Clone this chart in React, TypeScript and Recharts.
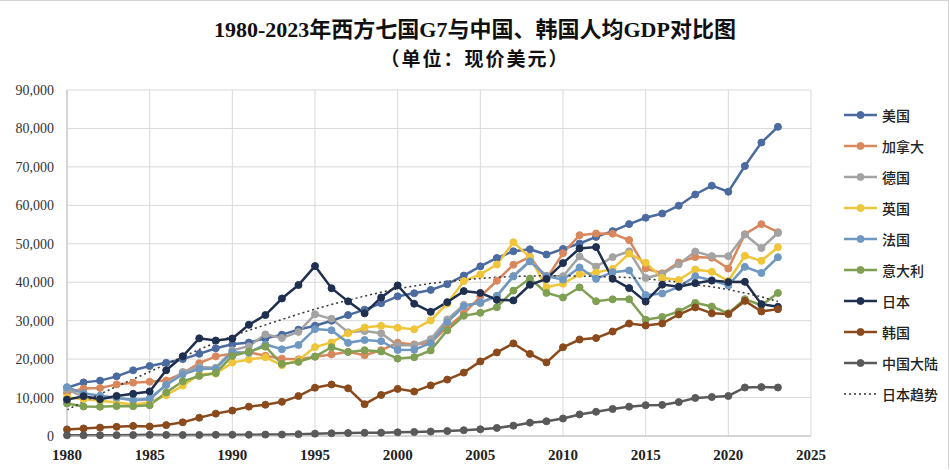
import React from 'react';
import { LineChart, Line, XAxis, YAxis, CartesianGrid } from 'recharts';

const years = [1980,1981,1982,1983,1984,1985,1986,1987,1988,1989,1990,1991,1992,1993,1994,1995,1996,1997,1998,1999,2000,2001,2002,2003,2004,2005,2006,2007,2008,2009,2010,2011,2012,2013,2014,2015,2016,2017,2018,2019,2020,2021,2022,2023];

const usa = [12553,13948,14405,15514,17086,18200,19034,20001,21376,22814,23848,24302,25393,26365,27663,28691,29967,31459,32854,34513,36330,37134,37998,39490,41725,44123,46302,48050,48570,47195,48651,50066,51784,53291,55124,56763,57867,59908,62823,65120,63531,70220,76330,80412];
const canada = [11171,12338,12482,13425,13877,14115,14440,16308,18937,20716,21448,21768,20880,20121,19935,20614,21227,21901,21025,22315,24271,23822,24255,28300,31829,36267,40386,44544,46596,40876,47562,52224,52670,52635,50956,43596,42316,45129,46549,46374,43562,52497,55100,53000];
const germany = [12138,10209,9914,9869,9277,9430,13421,16678,17951,17762,22304,23357,26430,25500,27077,31658,30486,26964,27289,26734,23636,23608,25197,30310,34106,34520,36354,41640,45612,41650,41572,46706,44065,46531,48024,41103,42136,44653,47974,46795,46773,52400,48900,52800];
const uk = [10032,9599,9146,8691,8180,8652,10611,13118,15987,16239,19095,19901,20487,18389,19709,23123,24333,26734,28214,28670,28150,27745,30057,34419,40290,42030,44599,50398,46497,38713,39599,42109,42497,43449,47440,45071,41146,40572,43307,42747,40318,46870,45564,49100];
const france = [12713,11105,10497,9984,9360,9776,13255,16055,17400,17540,21795,21676,23815,22547,23682,27800,27500,24229,24974,24674,22364,22433,24178,29569,33741,34760,36470,41508,45413,41575,40676,43846,40874,42603,43068,36653,37063,38781,41557,40494,39169,44000,42400,46500];
const italy = [8456,7673,7593,7775,7745,7990,11315,14236,15617,16386,20825,21956,23244,18721,19280,20665,23082,21829,22318,21999,20138,20482,22268,27497,31259,32043,33501,37822,40945,37227,36036,38650,35053,35550,35565,30242,30960,32407,34622,33674,31918,35600,34000,37200];
const japan = [9463,10361,9578,10425,10984,11585,17112,20745,25400,24813,25359,28925,31465,35766,39269,44200,38437,35022,31903,36027,39169,34406,32289,34808,37689,37218,35434,35275,39339,40855,44968,48760,49145,40898,38475,34961,39375,38834,39751,40416,40040,40100,34300,33600];
const korea = [1715,1968,2181,2386,2622,2482,2835,3555,4754,5817,6610,7637,8127,8885,10385,12565,13403,12398,8282,10672,12257,11561,13165,14673,16496,19403,21743,24086,21346,19144,23087,25096,25467,27182,29250,28737,29274,31601,33447,31902,31721,35142,32395,33000];
const china = [195,197,203,225,251,294,282,252,284,311,318,333,366,377,473,610,709,782,829,873,959,1053,1149,1289,1509,1753,2099,2694,3468,3832,4550,5614,6301,7020,7636,8016,8094,8817,9905,10144,10409,12618,12720,12614];
const japanTrend = [6800,8900,10900,12900,14800,16700,18700,20600,22500,24300,26000,27500,28900,30300,31700,33000,34200,35300,36400,37400,38300,39000,39700,40200,40600,41000,41300,41500,41600,41700,41700,41600,41500,41400,41200,40900,40500,40000,39400,38800,38100,37200,36200,35000];

const xTicks = [1980,1985,1990,1995,2000,2005,2010,2015,2020,2025];
const yTicks = [0,10000,20000,30000,40000,50000,60000,70000,80000,90000];

const titleLine1 = '1980-2023年西方七国G7与中国、韩国人均GDP对比图';
const titleLine2 = '（单位：现价美元）';

const series = [
  { key: 'usa', name: '美国', color: '#4a6aa0', values: usa },
  { key: 'canada', name: '加拿大', color: '#d9875c', values: canada },
  { key: 'germany', name: '德国', color: '#a3a3a3', values: germany },
  { key: 'uk', name: '英国', color: '#efc53a', values: uk },
  { key: 'france', name: '法国', color: '#6e98c2', values: france },
  { key: 'italy', name: '意大利', color: '#7f9f52', values: italy },
  { key: 'japan', name: '日本', color: '#1e2f4f', values: japan },
  { key: 'korea', name: '韩国', color: '#8a4a1c', values: korea },
  { key: 'china', name: '中国大陆', color: '#595959', values: china },
];

const data = years.map((y, i) => {
  const row: Record<string, number> = { year: y, trend: japanTrend[i] };
  series.forEach((s) => { row[s.key] = s.values[i]; });
  return row;
});

const fmt = (v: number) => v.toLocaleString('en-US');

export default function App() {
  return (
    <div style={{ position: 'absolute', left: 0, top: 0, width: 950, height: 470, background: '#fff', overflow: 'hidden' }}>
      <div style={{ position: 'absolute', left: 0, top: 0, width: 949, height: 469, borderTop: '1px solid #d4d4d4', borderRight: '1px solid #d4d4d4', boxSizing: 'border-box' }} />
      <div style={{ position: 'absolute', left: 0, top: 16, width: 950, textAlign: 'center', fontFamily: '"Liberation Serif", "Noto Sans CJK SC", serif', fontWeight: 'bold', fontSize: 22, color: '#111', lineHeight: '28px' }}>
        {titleLine1}
      </div>
      <div style={{ position: 'absolute', left: 0, top: 45, width: 950, textAlign: 'center', fontFamily: '"Noto Sans CJK SC", sans-serif', fontWeight: 'bold', fontSize: 19, color: '#111', lineHeight: '26px', letterSpacing: 2 }}>
        {titleLine2}
      </div>
      <div style={{ position: 'absolute', left: 0, top: 0 }}>
        <LineChart width={950} height={470} data={data} margin={{ top: 90, right: 139, bottom: 4, left: 0 }}>
          <CartesianGrid stroke="#d9d9d9" strokeWidth={1} />
          <XAxis
            dataKey="year"
            type="number"
            domain={[1980, 2025]}
            ticks={xTicks}
            height={30}
            tickLine={false}
            tickMargin={7}
            axisLine={{ stroke: '#bfbfbf' }}
            tick={{ fill: '#222', fontSize: 15, fontWeight: 'bold', fontFamily: '"Liberation Serif", serif' }}
            interval={0}
          />
          <YAxis
            type="number"
            domain={[0, 90000]}
            ticks={yTicks}
            width={67}
            tickLine={false}
            tickMargin={7}
            axisLine={{ stroke: '#bfbfbf' }}
            tickFormatter={fmt}
            tick={{ fill: '#333', fontSize: 14, fontFamily: '"Liberation Serif", serif' }}
            interval={0}
          />
          {series.map((s) => (
            <Line
              key={s.key}
              type="linear"
              dataKey={s.key}
              name={s.name}
              stroke={s.color}
              strokeWidth={2.5}
              dot={{ r: 3.5, fill: s.color, stroke: s.color, strokeWidth: 1 }}
              isAnimationActive={false}
            />
          ))}
          <Line
            type="linear"
            dataKey="trend"
            name="日本趋势"
            stroke="#333"
            strokeWidth={1.5}
            strokeDasharray="2 3"
            dot={false}
            isAnimationActive={false}
          />
        </LineChart>
      </div>
      <div style={{ position: 'absolute', left: 843, top: 99, width: 105, fontFamily: '"Noto Sans CJK SC", sans-serif', fontSize: 14, color: '#222', fontWeight: 500 }}>
        {series.map((s) => (
          <div key={s.key} style={{ height: 31, display: 'flex', alignItems: 'center' }}>
            <svg width={36} height={12} style={{ flex: 'none' }}>
              <line x1={1} y1={6} x2={34} y2={6} stroke={s.color} strokeWidth={2.5} />
              <circle cx={17.5} cy={6} r={3.5} fill={s.color} stroke={s.color} />
            </svg>
            <span style={{ marginLeft: 3 }}>{s.name}</span>
          </div>
        ))}
        <div style={{ height: 31, display: 'flex', alignItems: 'center' }}>
          <svg width={36} height={12} style={{ flex: 'none' }}>
            <line x1={1} y1={6} x2={34} y2={6} stroke="#333" strokeWidth={1.5} strokeDasharray="2 3" />
          </svg>
          <span style={{ marginLeft: 3 }}>日本趋势</span>
        </div>
      </div>
    </div>
  );
}
